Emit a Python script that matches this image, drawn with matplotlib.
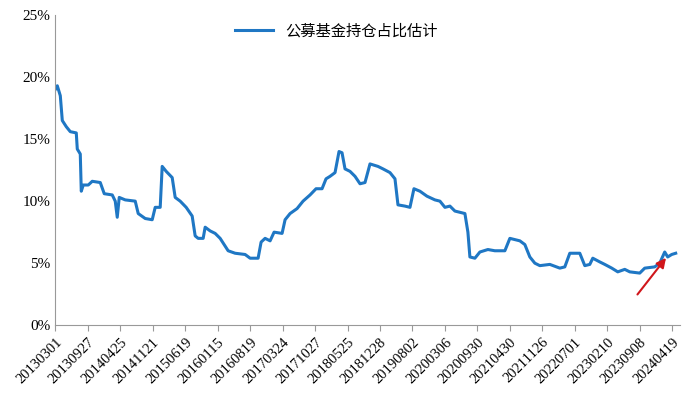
import matplotlib
matplotlib.use("Agg")
import matplotlib.pyplot as plt

# x position in sample units (one tick label every 32.5 units), value in %
x = [0, 2, 5, 7, 11, 15, 21, 22, 25, 26, 28, 33, 37, 45, 49, 57, 60, 62, 64, 70, 80, 83, 90, 97,
     100, 105, 107, 111, 117, 120, 125, 131, 137, 140, 143, 148, 150, 155, 160, 165, 173, 180, 190,
     195, 203, 206, 210, 215, 219, 227, 230, 235, 242, 248, 255, 261, 267, 271, 275, 280, 284, 287,
     290, 295, 300, 305, 310, 315, 323, 328, 335, 340, 343, 350, 355, 359, 365, 372, 380, 385, 390,
     395, 400, 410, 413, 415, 420, 425, 433, 440, 450, 455, 465, 470, 475, 480, 485, 495, 505, 510,
     515, 525, 530, 535, 538, 545, 550, 557, 563, 570, 575, 585, 590, 600, 605, 610, 613, 617, 621]
y = [19.0, 19.3, 18.5, 16.5, 16.0, 15.6, 15.5, 14.2, 13.8, 10.8, 11.3, 11.3, 11.6, 11.5, 10.6, 10.5,
     10.0, 8.7, 10.3, 10.1, 10.0, 9.0, 8.6, 8.5, 9.5, 9.5, 12.8, 12.4, 11.9, 10.3, 10.0, 9.5, 8.8,
     7.2, 7.0, 7.0, 7.9, 7.6, 7.4, 7.0, 6.0, 5.8, 5.7, 5.4, 5.4, 6.7, 7.0, 6.8, 7.5, 7.4, 8.5, 9.0,
     9.4, 10.0, 10.5, 11.0, 11.0, 11.8, 12.0, 12.3, 14.0, 13.9, 12.6, 12.4, 12.0, 11.4, 11.5, 13.0,
     12.8, 12.6, 12.3, 11.8, 9.7, 9.6, 9.5, 11.0, 10.8, 10.4, 10.1, 10.0, 9.5, 9.6, 9.2, 9.0, 7.5,
     5.5, 5.4, 5.9, 6.1, 6.0, 6.0, 7.0, 6.8, 6.5, 5.5, 5.0, 4.8, 4.9, 4.6, 4.7, 5.8, 5.8, 4.8, 4.9,
     5.4, 5.1, 4.9, 4.6, 4.3, 4.5, 4.3, 4.2, 4.6, 4.7, 5.0, 5.9, 5.5, 5.7, 5.8]
tick_labels = ["20130301", "20130927", "20140425", "20141121", "20150619", "20160115",
               "20160819", "20170324", "20171027", "20180525", "20181228", "20190802",
               "20200306", "20200930", "20210430", "20211126", "20220701", "20230210",
               "20230908", "20240419"]
tick_step = 32.5

fig = plt.figure(figsize=(7, 4.07), dpi=100)
ax = fig.add_axes([0.079, 0.201, 0.892, 0.762])
ax.plot(x, y, color="#1F77C4", lw=2.2, label="公募基金持仓占比估计")
ax.set_xlim(0, 625)
ax.set_ylim(0, 25)
ax.set_yticks(range(0, 26, 5))
ax.set_yticklabels([f"{v}%" for v in range(0, 26, 5)], family="Liberation Serif", fontsize=11)
ax.set_xticks([i * tick_step for i in range(len(tick_labels))])
ax.set_xticklabels(tick_labels, rotation=45, ha="right", rotation_mode="anchor",
                   family="Liberation Serif", fontsize=10.5)
for s in ["top", "right"]:
    ax.spines[s].set_visible(False)
ax.spines["left"].set_color("#999999")
ax.spines["bottom"].set_color("#999999")
ax.tick_params(axis="both", length=0)
ax.tick_params(axis="x", length=4, color="#999999")
ax.annotate("", xy=(613, 5.6), xytext=(581, 2.3),
            arrowprops=dict(arrowstyle="-|>", color="#D0161B", lw=1.5, mutation_scale=14))
leg = ax.legend(loc="upper center", bbox_to_anchor=(0.45, 1.02), frameon=False,
                prop={"family": ["Noto Sans CJK SC", "DejaVu Sans"], "size": 11},
                handlelength=2.5)
fig.savefig("out.png", dpi=100)
